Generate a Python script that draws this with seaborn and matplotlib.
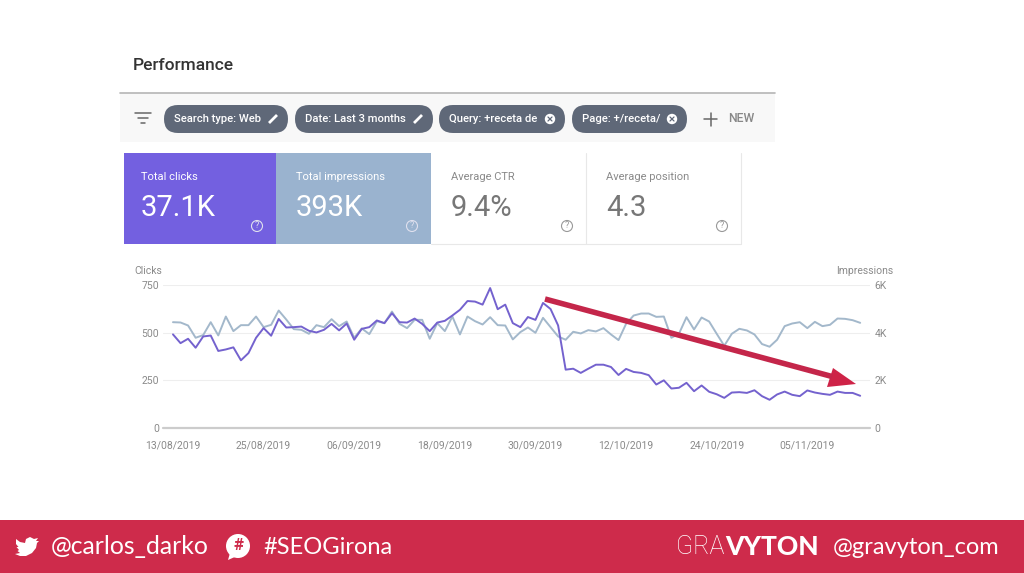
import matplotlib
matplotlib.use("Agg")
import matplotlib.pyplot as plt
from matplotlib.patches import Rectangle, FancyBboxPatch, Circle, Polygon
import seaborn as sns
import pandas as pd

clicks = [491,445,468,421,480,485,404,412,423,355,393,473,524,484,572,527,529,532,510,501,
          515,546,512,548,463,520,529,564,550,602,555,553,574,546,508,553,562,590,620,666,
          663,647,734,623,647,550,529,582,567,656,624,538,306,311,289,311,332,332,320,278,
          310,294,289,277,228,250,207,211,237,193,223,190,177,158,186,188,184,198,167,148,
          176,191,174,167,197,186,179,174,191,184,184,169]
impressions = [4440,4427,4301,3786,3898,4440,3884,4677,4065,4315,4315,4677,4232,4329,4928,4552,
               4148,4120,3953,4315,4232,4566,4274,4468,3786,4176,3939,4482,4399,4886,4371,4190,
               4538,4538,3745,4399,4065,4677,3925,4677,4482,4343,4649,4315,4301,3717,4023,4218,
               3995,4622,4232,3842,3703,4037,3967,4107,4051,4190,3925,3689,4371,4719,4803,4803,
               4663,4677,3786,3953,4649,4134,4635,4468,3953,3452,3953,4162,4093,3925,3522,3410,
               3703,4274,4385,4440,4190,4454,4274,4329,4594,4580,4524,4413]
start_date = "2019-08-13"
date_ticks = ["13/08/2019","25/08/2019","06/09/2019","18/09/2019","30/09/2019","12/10/2019","24/10/2019","05/11/2019"]
clicks_ticks = [0,250,500,750]
impr_ticks = [0,2000,4000,6000]
impr_labels = ["0","2K","4K","6K"]
chips = ["Search type: Web","Date: Last 3 months","Query: +receta de","Page: +/receta/"]
tile_titles = ["Total clicks","Total impressions","Average CTR","Average position"]
tile_values = ["37.1K","393K","9.4%","4.3"]

PURPLE="#7462CE"; BLUE="#A3B8CB"; GREY="#8a8a8a"; RED="#CE2B4B"
sns.set_theme(style="white")
plt.rcParams['font.family'] = ['Roboto','DejaVu Sans']

W,H=1024,573
fig=plt.figure(figsize=(W/100,H/100),dpi=100,facecolor="white")
def px_axes(l,t,r,b):
    return fig.add_axes([l/W,1-b/H,(r-l)/W,(b-t)/H])

df=pd.DataFrame({"date":pd.date_range(start_date,periods=len(clicks)),"clicks":clicks,"impressions":impressions})
tick_dates=pd.to_datetime(date_ticks,format="%d/%m/%Y")

ax=px_axes(163,285,870,428)
ax2=ax.twinx()
sns.lineplot(data=df,x="date",y="impressions",ax=ax2,color=BLUE,lw=1.4)
sns.lineplot(data=df,x="date",y="clicks",ax=ax,color=PURPLE,lw=1.4)
ax.set_zorder(2); ax2.set_zorder(1); ax.patch.set_visible(False)
ax.set_ylim(0,750); ax2.set_ylim(0,6000)
ax.set_xlim(df.date[0]-pd.Timedelta(days=1.32),df.date[0]+pd.Timedelta(days=92.3))
ax.set_xticks(tick_dates); ax.set_xticklabels(date_ticks)
ax.set_yticks(clicks_ticks); ax2.set_yticks(impr_ticks); ax2.set_yticklabels(impr_labels)
ax.set_xlabel(""); ax.set_ylabel(""); ax2.set_ylabel("")
for a in (ax,ax2):
    for s in a.spines.values(): s.set_visible(False)
    a.tick_params(length=0,labelsize=7.5,labelcolor=GREY)
ax.tick_params(axis="y",pad=3)
ax2.tick_params(axis="y",pad=3.5)
ax.tick_params(axis="x",pad=9)
ax.grid(False); ax2.grid(False)
for v in clicks_ticks[1:]:
    ax2.axhline(v*8,color="#eeeeee",lw=0.8,zorder=0)
ax2.axhline(0,color="#cccccc",lw=1.6,zorder=0,clip_on=False)

ov=fig.add_axes([0,0,1,1],zorder=5)
ov.set_xlim(0,W); ov.set_ylim(H,0); ov.axis("off"); ov.patch.set_visible(False)
def T(x,y,s,size,c="#666666",ha="left",va="center",**k):
    return ov.text(x,y,s,fontsize=size,color=c,ha=ha,va=va,**k)

T(133,65.5,"Performance",12.5,"#333333",fontweight="medium")
# toolbar
ov.add_patch(Rectangle((120,93),655,49,fc="#f8f8f8",ec="none"))
ov.plot([120,775],[92.5,92.5],color="#b5b5b5",lw=1.2)
for yy,(a,b) in zip([113,118,123],[(135,151),(138,148),(141,145)]):
    ov.plot([a,b],[yy,yy],color="#666666",lw=1.1)
chip_x=[(164,288),(295,433),(439,565),(572,687)]
for i,((a,b),s) in enumerate(zip(chip_x,chips)):
    ov.add_patch(FancyBboxPatch((a+14,105+14),b-a-28,0,boxstyle="round,pad=14",fc="#5F6878",ec="none"))
    T(a+10,119.5,s,8.1,"white",fontweight="medium")
    if i<2:
        ov.plot([b-19,b-11],[123,115],color="white",lw=2,solid_capstyle="butt")
    else:
        ov.add_patch(Circle((b-15,119),5.2,fc="white",ec="none"))
        ov.plot([b-17,b-13],[117,121],color="#5F6878",lw=0.9)
        ov.plot([b-17,b-13],[121,117],color="#5F6878",lw=0.9)
ov.plot([704,717],[119,119],color="#666666",lw=1.1)
ov.plot([710.5,710.5],[112.5,125.5],color="#666666",lw=1.1)
T(728,119,"NEW",8.8,"#888888",fontweight="medium")
# tiles
tiles=[(124,276,"#7360E0"),(276,431,"#9AB3CF"),(431,586,"white"),(586,741,"white")]
offsets=[17,20,20,20]
for (a,b,c),t,v,o in zip(tiles,tile_titles,tile_values,offsets):
    ov.add_patch(Rectangle((a,153),b-a,91,fc=c,ec="none"))
    dark=c=="white"
    col="#8a8a8a" if dark else "white"
    T(a+o,176.5,t,8,col)
    T(a+o,208,v,21,"#777777" if dark else "white")
    ring="#999999" if dark else "#dfe0ee"
    ov.add_patch(Circle((b-19,226),5.5,fc="none",ec=ring,lw=0.8))
    T(b-19,226,"?",6.5,ring,ha="center")
ov.plot([431,741,741],[244,244,153],color="#e8e8e8",lw=0.8)
ov.plot([586,586],[153,244],color="#e8e8e8",lw=0.8)
# axis titles
T(134,270.5,"Clicks",7.5,GREY)
T(893,270.5,"Impressions",7.5,GREY,ha="right")
# arrow
ov.plot([545,832],[299,376.5],color="#C4264A",lw=4,solid_capstyle="butt")
ov.add_patch(Polygon([(856,384),(827,387),(833,368)],fc="#CE2347",ec="none"))
# banner
ov.add_patch(Rectangle((0,520),W,53,fc=RED,ec="none"))
bird=[(16,539),(20,542),(25,543),(26,539),(30,537),(34,539),(38,538),(36,541),(39,541),(37,543),
      (36,548),(32,553),(26,556),(20,556),(15,554),(20,553),(17.5,551),(19,550),(16.5,547),(18.5,547),(16,544)]
ov.add_patch(Polygon(bird,fc="white",ec="none"))
T(51,547,"@carlos_darko",17.8,"white",fontfamily="Lato")
ov.add_patch(Circle((238,546),12,fc="white",ec="none"))
ov.add_patch(Polygon([(230,553),(228,560),(237,556)],fc="white",ec="none"))
T(238,546,"#",12,RED,ha="center",fontweight="bold")
T(263,547,"#SEOGirona",17,"white",fontfamily="Lato")
T(676,547,"GRA",18,"white",fontfamily="Roboto",fontweight="light")
T(725,547,"VYTON",19,"white",fontfamily="Lato",fontweight="black")
T(833,547,"@gravyton_com",17,"white",fontfamily="Lato")
fig.savefig("out.png",dpi=100)
